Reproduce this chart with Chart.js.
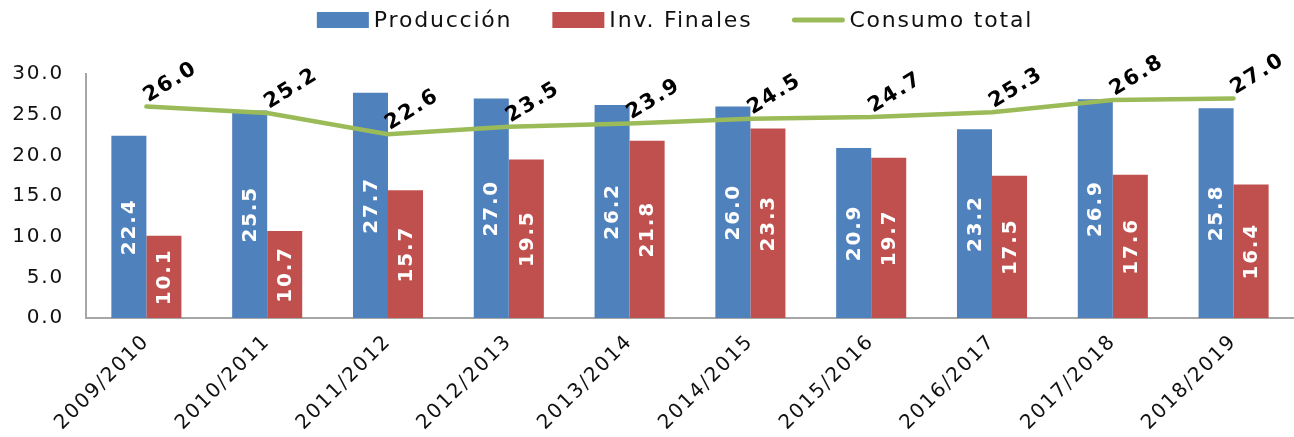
<!DOCTYPE html>
<html>
<head>
<meta charset="utf-8">
<script src="https://cdn.jsdelivr.net/npm/chart.js@4"></script>
<style>
html,body{margin:0;padding:0;background:#fff;}
#wrap{width:1294px;height:437px;position:relative;}
</style>
</head>
<body>
<div id="wrap"><canvas id="c" width="1294" height="437"></canvas></div>
<script>
const categories = ["2009/2010","2010/2011","2011/2012","2012/2013","2013/2014","2014/2015","2015/2016","2016/2017","2017/2018","2018/2019"];
const produccion = [22.4,25.5,27.7,27.0,26.2,26.0,20.9,23.2,26.9,25.8];
const invFinales = [10.1,10.7,15.7,19.5,21.8,23.3,19.7,17.5,17.6,16.4];
const consumoTotal = [26.0,25.2,22.6,23.5,23.9,24.5,24.7,25.3,26.8,27.0];
const yTicks = [0,5,10,15,20,25,30];

const FONT = "'DejaVu Sans', sans-serif";
const BLUE = '#4F81BD', RED = '#C0504D', GREEN = '#9BBB59';
const SPACING = '1.8px';

const spacingPlugin = {
  id: 'spacing',
  beforeUpdate(chart) { chart.ctx.letterSpacing = SPACING; },
  beforeLayout(chart) { chart.ctx.letterSpacing = SPACING; },
  beforeDraw(chart) { chart.ctx.letterSpacing = SPACING; }
};

const legendPlugin = {
  id: 'customLegend',
  afterDraw(chart) {
    const ctx = chart.ctx;
    ctx.save();
    ctx.letterSpacing = SPACING;
    ctx.font = "22px " + FONT;
    const boxW = 52, boxH = 16, gapText = 5, gapItem = 40, cy = 20;
    const items = chart.data.datasets.map(ds => ({
      text: ds.label, type: ds.type, color: ds.type === 'line' ? ds.borderColor : ds.backgroundColor,
      w: ctx.measureText(ds.label).width
    }));
    let total = 0;
    items.forEach((it, i) => { total += boxW + gapText + it.w + (i < items.length - 1 ? gapItem : 0); });
    let x = 675 - total / 2;
    items.forEach(it => {
      if (it.type === 'line') {
        ctx.strokeStyle = it.color; ctx.lineWidth = 5; ctx.lineCap = 'round';
        ctx.beginPath(); ctx.moveTo(x + 2, cy); ctx.lineTo(x + boxW - 2, cy); ctx.stroke();
      } else {
        ctx.fillStyle = it.color; ctx.fillRect(x, cy - boxH / 2, boxW, boxH);
      }
      x += boxW + gapText;
      ctx.fillStyle = '#111'; ctx.textAlign = 'left'; ctx.textBaseline = 'middle';
      ctx.fillText(it.text, x, cy + 1);
      x += it.w + gapItem;
    });
    ctx.restore();
  }
};

const labelPlugin = {
  id: 'valueLabels',
  afterDatasetsDraw(chart) {
    const ctx = chart.ctx;
    ctx.save();
    [0,1].forEach(di => {
      const meta = chart.getDatasetMeta(di);
      const data = chart.data.datasets[di].data;
      meta.data.forEach((el, i) => {
        const cy = (el.y + el.base) / 2;
        ctx.save();
        ctx.translate(el.x, cy);
        ctx.rotate(-Math.PI/2);
        ctx.fillStyle = '#ffffff';
        ctx.font = "bold 20px " + FONT;
        ctx.textAlign = 'center';
        ctx.textBaseline = 'middle';
        ctx.fillText(data[i].toFixed(1), 0, 1);
        ctx.restore();
      });
    });
    const lm = chart.getDatasetMeta(2);
    const ld = chart.data.datasets[2].data;
    lm.data.forEach((el, i) => {
      ctx.save();
      ctx.translate(el.x + 2, el.y - 4);
      ctx.rotate(-32 * Math.PI/180);
      ctx.fillStyle = '#000000';
      ctx.font = "bold 21px " + FONT;
      ctx.textAlign = 'left';
      ctx.textBaseline = 'alphabetic';
      ctx.fillText(ld[i].toFixed(1), 0, 0);
      ctx.restore();
    });
    ctx.restore();
  }
};

new Chart(document.getElementById('c'), {
  data: {
    labels: categories,
    datasets: [
      {type:'bar', label:'Producción', data: produccion, backgroundColor: BLUE, order: 2,
       categoryPercentage: 0.58, barPercentage: 1.0},
      {type:'bar', label:'Inv. Finales', data: invFinales, backgroundColor: RED, order: 2,
       categoryPercentage: 0.58, barPercentage: 1.0},
      {type:'line', label:'Consumo total', data: consumoTotal, borderColor: GREEN, backgroundColor: GREEN,
       borderWidth: 4.5, pointRadius: 0, tension: 0, order: 0, borderCapStyle: 'round'}
    ]
  },
  options: {
    responsive: false,
    animation: false,
    events: [],
    layout: {padding: {top: 74, left: 0, right: 0, bottom: 0}},
    plugins: {
      tooltip: {enabled: false},
      legend: {display: false}
    },
    scales: {
      x: {
        grid: {display: false, drawTicks: false},
        border: {display: true, color: '#A6A6A6', width: 2},
        ticks: {font: {family: FONT, size: 20}, color: '#111', minRotation: 45, maxRotation: 45, padding: 12},
        afterFit(scale) { scale.height = 119; }
      },
      y: {
        min: 0, max: 30,
        afterBuildTicks(scale) { scale.ticks = yTicks.map(v => ({value: v})); },
        grid: {display: false, drawTicks: false},
        border: {display: true, color: '#A6A6A6', width: 2},
        ticks: {font: {family: FONT, size: 20}, color: '#111', padding: 22,
                callback: v => Number(v).toFixed(1)},
        afterFit(scale) { scale.width = 86; }
      }
    }
  },
  plugins: [spacingPlugin, labelPlugin, legendPlugin]
});
</script>
</body>
</html>
